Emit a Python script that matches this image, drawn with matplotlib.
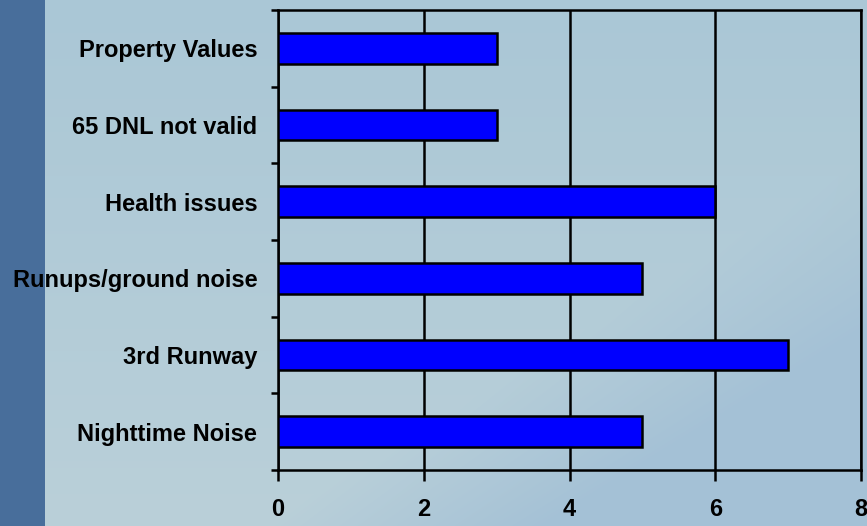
import numpy as np
import matplotlib
matplotlib.use("Agg")
import matplotlib.pyplot as plt
from matplotlib.colors import to_rgb

# Responses by topic (bottom to top as drawn)
categories = ["Nighttime Noise", "3rd Runway", "Runups/ground noise",
              "Health issues", "65 DNL not valid", "Property Values"]
counts = [5, 7, 5, 6, 3, 3]
x_ticks = [0, 2, 4, 6, 8]

plt.rcParams['font.family'] = ['Liberation Sans', 'DejaVu Sans']

fig = plt.figure(figsize=(8.67, 5.26), dpi=100)

# background: pale blue wash with a darker stripe on the left
bg = fig.add_axes([0, 0, 1, 1], zorder=-10)
h, w = 526, 867
yy, xx = np.mgrid[0:h, 0:w] / np.array([h, w])[:, None, None]
top = np.array(to_rgb("#aac7d6"))
low = np.array(to_rgb("#bad0d9"))
slope = np.array(to_rgb("#a4c1d6"))
img = top[None, None, :] * (1 - yy[..., None]) + low[None, None, :] * yy[..., None]
mt = np.clip((xx + yy - 1.3) * 3, 0, 1)[..., None]
img = img * (1 - mt) + slope * mt
img[:, :45] = to_rgb("#486e9b")
bg.imshow(img, aspect="auto", extent=[0, 1, 0, 1])
bg.axis("off")

ax = fig.add_axes([278 / w, 56 / h, 583 / w, 460 / h])
ax.patch.set_alpha(0)
pos = np.arange(len(categories))
ax.barh(pos, counts, height=0.4, color="#0000ff", edgecolor="black",
        linewidth=1.8, zorder=3)

ax.set_xlim(0, 8)
ax.set_ylim(-0.5, len(categories) - 0.5)
ax.set_xticks(x_ticks)
ax.set_yticks(pos)
ax.set_yticklabels(categories)
ax.set_yticks(np.arange(-0.5, len(categories)), minor=True)
ax.xaxis.grid(True, color="black", linewidth=1.8, zorder=1)
ax.set_axisbelow(True)

for s in ax.spines.values():
    s.set_linewidth(1.8)
    s.set_color("black")

ax.tick_params(axis="y", which="major", length=0, pad=15, labelsize=17)
ax.tick_params(axis="y", which="minor", length=5, width=1.8, direction="out")
ax.tick_params(axis="x", length=8, width=1.8, direction="out", pad=12,
               labelsize=17)
for lab in ax.get_xticklabels() + ax.get_yticklabels():
    lab.set_fontweight("bold")

fig.savefig("out.png", dpi=100)
